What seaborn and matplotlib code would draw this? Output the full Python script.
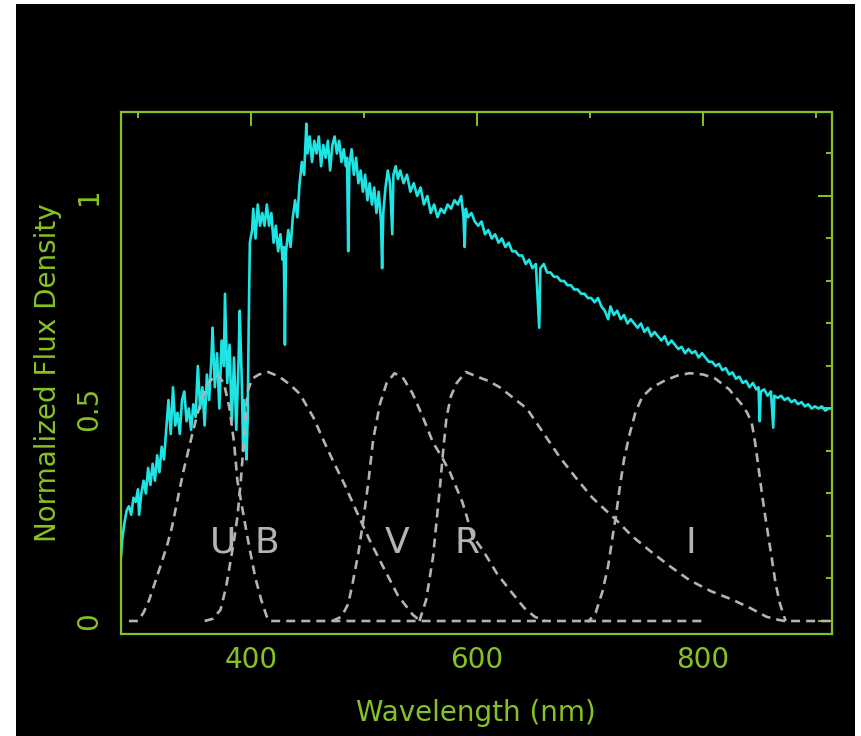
import matplotlib
matplotlib.use("Agg")
import matplotlib.pyplot as plt
import seaborn as sns
import pandas as pd
from matplotlib.patches import Rectangle
from matplotlib.ticker import MultipleLocator, FixedLocator, FixedFormatter

# ---------------- data ----------------
spec_wl = [285, 286, 288, 290, 292, 294, 296, 298, 300, 301, 303, 305, 307, 309, 311, 313, 315, 317, 319, 321,
           323, 325, 327, 329, 331, 333, 335, 337, 339, 341, 343, 345, 347, 349, 351, 353, 355, 357, 359, 361,
           363, 365, 366, 368, 370, 372, 374, 376, 377, 379, 381, 383, 385, 387, 389, 390, 392, 393, 394, 396,
           397, 398, 399, 401, 402, 404, 406, 408, 410, 412, 414, 416, 418, 420, 422, 424, 426, 428, 429, 430,
           431, 433, 435, 437, 439, 441, 443, 445, 447, 449, 450, 452, 454, 456, 458, 460, 462, 464, 466, 468,
           470, 472, 474, 476, 478, 480, 482, 484, 485, 486, 487, 489, 491, 493, 495, 497, 499, 501, 503, 505,
           507, 509, 511, 513, 515, 516, 517, 519, 521, 523, 525, 526, 528, 530, 532, 535, 538, 541, 544, 547,
           550, 553, 556, 559, 562, 565, 568, 571, 574, 577, 580, 583, 586, 588, 589, 590, 592, 595, 598, 601,
           604, 607, 610, 613, 616, 619, 622, 625, 628, 631, 634, 637, 640, 643, 646, 649, 652, 655, 656, 659,
           662, 665, 668, 671, 674, 677, 680, 683, 686, 689, 692, 695, 698, 701, 704, 707, 710, 713, 716, 718,
           721, 724, 727, 730, 733, 736, 739, 742, 745, 748, 751, 754, 757, 760, 763, 766, 769, 772, 775, 778,
           781, 784, 787, 790, 793, 796, 799, 802, 805, 808, 811, 814, 817, 820, 823, 826, 829, 832, 835, 838,
           841, 844, 847, 849, 850, 851, 854, 857, 860, 862, 863, 866, 869, 872, 875, 878, 881, 884, 887, 890,
           893, 896, 899, 902, 905, 908, 911, 914]
spec_flux = [0.15, 0.19, 0.23, 0.26, 0.27, 0.25, 0.29, 0.28, 0.31, 0.25, 0.30, 0.33, 0.30, 0.36, 0.32, 0.37, 0.33, 0.39, 0.35, 0.41,
             0.38, 0.45, 0.52, 0.44, 0.55, 0.46, 0.49, 0.44, 0.52, 0.54, 0.47, 0.50, 0.45, 0.51, 0.48, 0.60, 0.50, 0.55, 0.46, 0.58,
             0.52, 0.62, 0.69, 0.55, 0.63, 0.50, 0.66, 0.60, 0.77, 0.56, 0.65, 0.47, 0.62, 0.45, 0.61, 0.73, 0.55, 0.40, 0.52, 0.38,
             0.47, 0.70, 0.89, 0.92, 0.97, 0.90, 0.98, 0.93, 0.96, 0.93, 0.98, 0.93, 0.96, 0.89, 0.93, 0.87, 0.91, 0.85, 0.88, 0.65,
             0.87, 0.92, 0.88, 0.95, 0.99, 0.95, 1.03, 1.08, 1.05, 1.17, 1.10, 1.14, 1.08, 1.13, 1.10, 1.14, 1.07, 1.12, 1.09, 1.13,
             1.06, 1.12, 1.14, 1.10, 1.13, 1.08, 1.11, 1.07, 1.09, 0.87, 1.07, 1.11, 1.05, 1.09, 1.03, 1.06, 1.01, 1.05, 0.99, 1.03,
             0.98, 1.02, 0.96, 1.01, 0.94, 0.83, 0.96, 1.02, 1.06, 1.03, 0.91, 1.05, 1.07, 1.04, 1.06, 1.03, 1.05, 1.01, 1.03, 1.00,
             1.02, 0.98, 1.00, 0.96, 0.98, 0.95, 0.97, 0.96, 0.98, 0.97, 0.99, 0.98, 1.00, 0.95, 0.88, 0.97, 0.95, 0.96, 0.94, 0.93,
             0.94, 0.91, 0.92, 0.90, 0.91, 0.89, 0.90, 0.88, 0.89, 0.87, 0.87, 0.86, 0.86, 0.84, 0.85, 0.83, 0.84, 0.69, 0.83, 0.84,
             0.82, 0.82, 0.81, 0.81, 0.80, 0.80, 0.79, 0.79, 0.78, 0.78, 0.77, 0.77, 0.76, 0.76, 0.75, 0.76, 0.74, 0.73, 0.71, 0.74,
             0.72, 0.73, 0.71, 0.72, 0.70, 0.71, 0.70, 0.69, 0.70, 0.68, 0.69, 0.67, 0.68, 0.67, 0.66, 0.67, 0.65, 0.66, 0.65, 0.64,
             0.645, 0.63, 0.64, 0.63, 0.635, 0.62, 0.63, 0.62, 0.61, 0.61, 0.60, 0.605, 0.59, 0.595, 0.58, 0.585, 0.57, 0.575, 0.56, 0.565,
             0.55, 0.56, 0.545, 0.55, 0.47, 0.54, 0.545, 0.53, 0.54, 0.455, 0.53, 0.525, 0.53, 0.52, 0.525, 0.515, 0.52, 0.51, 0.515, 0.505,
             0.51, 0.50, 0.505, 0.50, 0.505, 0.495, 0.50, 0.50]

u_wl = [292, 300, 305, 310, 315, 320, 326, 330, 335, 340, 349, 355, 362, 370, 376, 381, 385, 388, 392, 396, 399, 404, 409, 414, 416, 800]
u_tr = [0, 0, 0.02, 0.05, 0.09, 0.13, 0.18, 0.22, 0.285, 0.35, 0.45, 0.51, 0.56, 0.58, 0.56, 0.50, 0.42, 0.33, 0.27, 0.21, 0.167, 0.10, 0.05, 0.01, 0, 0]
b_wl = [359, 366, 373, 378, 381, 385, 388, 391, 393, 395, 397, 401, 407, 415, 425, 435, 443, 455, 465, 472, 483, 493, 505, 517, 530, 543, 550]
b_tr = [0, 0.005, 0.026, 0.08, 0.127, 0.19, 0.245, 0.33, 0.40, 0.47, 0.54, 0.57, 0.58, 0.586, 0.575, 0.555, 0.535, 0.48, 0.42, 0.38, 0.32, 0.26, 0.19, 0.127, 0.06, 0.015, 0]
v_wl = [472, 480, 486, 490, 495, 499, 504, 508, 514, 520, 527, 535, 543, 552, 561, 569, 576, 587, 596, 605, 618, 631, 642, 651, 660]
v_tr = [0, 0.01, 0.04, 0.09, 0.16, 0.23, 0.33, 0.425, 0.51, 0.56, 0.583, 0.57, 0.535, 0.48, 0.42, 0.385, 0.35, 0.28, 0.20, 0.167, 0.11, 0.066, 0.03, 0.01, 0]
r_wl = [549, 555, 561, 564, 567, 570, 573, 577, 582, 590, 600, 610, 620, 632, 644, 658, 673, 688, 702, 712, 723, 737, 752, 770, 788, 807, 826, 842, 856, 866, 872, 913]
r_tr = [0, 0.05, 0.15, 0.23, 0.31, 0.40, 0.48, 0.53, 0.56, 0.586, 0.575, 0.565, 0.55, 0.525, 0.50, 0.445, 0.386, 0.335, 0.29, 0.265, 0.238, 0.20, 0.167, 0.13, 0.096, 0.07, 0.05, 0.03, 0.01, 0.003, 0, 0]
i_wl = [695, 699, 705, 711, 716, 720, 723, 726, 730, 735, 740, 746, 755, 767, 778, 788, 800, 811, 823, 834, 839, 843, 846, 849, 852, 855, 860, 864, 868, 873]
i_tr = [0, 0.0, 0.02, 0.07, 0.13, 0.2, 0.25, 0.31, 0.38, 0.44, 0.49, 0.527, 0.55, 0.567, 0.578, 0.583, 0.58, 0.57, 0.545, 0.51, 0.49, 0.466, 0.42, 0.36, 0.30, 0.245, 0.16, 0.09, 0.04, 0]

band_names = ["U", "B", "V", "R", "I"]
band_label_wl = [375, 414, 529, 591, 789]
band_label_y = [0.184, 0.184, 0.184, 0.184, 0.184]

x_major = [400, 600, 800]
y_major = [0, 0.5, 1]
y_major_labels = ["0", "0.5", "1"]

# ---------------- style ----------------
GREEN = "#86c322"
CYAN = "#1fe4e4"
GREY = "#b3b3b3"

sns.set_style("dark", rc={"axes.facecolor": "black", "axes.grid": False,
                          "figure.facecolor": "white"})
plt.rcParams["font.family"] = ["DejaVu Sans"]

fig = plt.figure(figsize=(8.61, 7.36), dpi=100)
fig.patches.append(Rectangle((16 / 861, 0), (855 - 16) / 861, (736 - 4) / 736,
                             transform=fig.transFigure, facecolor="black",
                             edgecolor="none", zorder=-10))
ax = fig.add_axes([121 / 861, 1 - 634 / 736, 711 / 861, 522 / 736])
ax.set_facecolor("black")

spec_df = pd.DataFrame({"wl": spec_wl, "flux": spec_flux})
sns.lineplot(data=spec_df, x="wl", y="flux", sort=False, estimator=None,
             color=CYAN, lw=1.9, ax=ax, zorder=2)

rows = []
for name, wl, tr in zip(band_names, [u_wl, b_wl, v_wl, r_wl, i_wl],
                        [u_tr, b_tr, v_tr, r_tr, i_tr]):
    for w, t in zip(wl, tr):
        rows.append({"band": name, "wl": w, "tr": t})
filt_df = pd.DataFrame(rows)
n_before = len(ax.lines)
sns.lineplot(data=filt_df, x="wl", y="tr", units="band", estimator=None,
             sort=False, color=GREY, lw=1.9, ax=ax, zorder=3)
for ln in ax.lines[n_before:]:
    ln.set_linestyle((0, (3.4, 2.3)))

for name, xw, yy in zip(band_names, band_label_wl, band_label_y):
    ax.text(xw, yy, name, color=GREY, fontsize=26, ha="center", va="center",
            zorder=4)

ax.set_xlim(285, 914)
ax.set_ylim(-0.0306, 1.1976)

ax.xaxis.set_major_locator(FixedLocator(x_major))
ax.xaxis.set_minor_locator(MultipleLocator(100))
ax.yaxis.set_major_locator(FixedLocator(y_major))
ax.yaxis.set_major_formatter(FixedFormatter(y_major_labels))
ax.yaxis.set_minor_locator(MultipleLocator(0.1))

ax.tick_params(which="both", direction="in", top=True, right=True,
               color=GREEN, width=1.4, labelcolor=GREEN, labelsize=20)
ax.tick_params(which="major", length=10)
ax.tick_params(which="minor", length=4.5)
ax.tick_params(axis="x", which="major", pad=9)
ax.tick_params(axis="y", which="major", pad=13, labelrotation=90)
for lab in ax.get_yticklabels():
    lab.set_va("center")

for sp in ax.spines.values():
    sp.set_color(GREEN)
    sp.set_linewidth(1.6)
    sp.set_visible(True)

ax.set_xlabel("Wavelength (nm)", color=GREEN, fontsize=20)
ax.set_ylabel("Normalized Flux Density", color=GREEN, fontsize=20)
ax.xaxis.label.set_va("center")
ax.yaxis.label.set_va("center")
ax.xaxis.set_label_coords(0.499, -0.151)
ax.yaxis.set_label_coords(-0.102, 0.5)

fig.savefig("out.png", dpi=100, facecolor=fig.get_facecolor())
